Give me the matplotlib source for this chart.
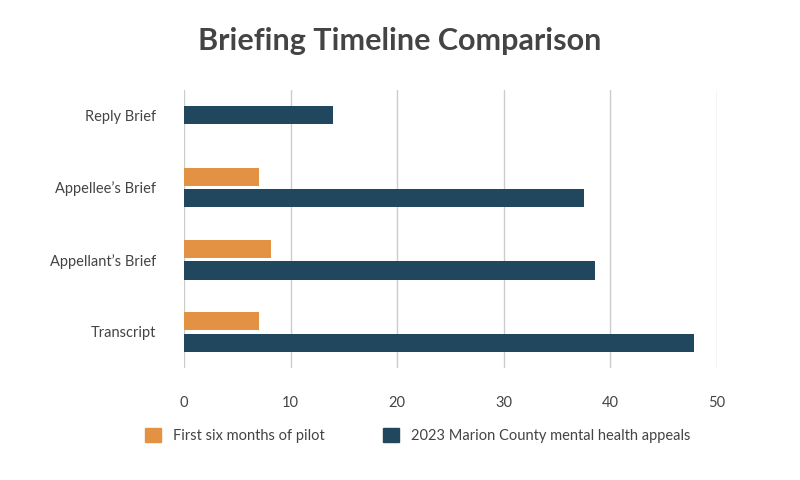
import matplotlib
matplotlib.use("Agg")
import matplotlib.pyplot as plt
import numpy as np
from matplotlib.patches import Patch

categories = ["Transcript", "Appellant’s Brief", "Appellee’s Brief", "Reply Brief"]
pilot = [7.0, 8.2, 7.0, None]
marion = [47.8, 38.6, 37.5, 14.0]
xticks = [0, 10, 20, 30, 40, 50]

orange = "#E39243"
navy = "#21475F"
plt.rcParams["font.family"] = "Lato"

fig = plt.figure(figsize=(8, 4.8), dpi=100)
ax = fig.add_axes([184/800, 1-368/480, (717-184)/800, (368-90)/480])
h = 0.25
off = 0.15
for i, (p, m) in enumerate(zip(pilot, marion)):
    if p is None:
        ax.barh(i, m, height=h, color=navy, zorder=3)
    else:
        ax.barh(i + off, p, height=h, color=orange, zorder=3)
        ax.barh(i - off, m, height=h, color=navy, zorder=3)

ax.set_xlim(0, 50)
ax.set_ylim(-0.5, 3.35)
ax.set_xticks(xticks)
ax.set_yticks(range(len(categories)))
ax.set_yticklabels(categories)
ax.grid(axis="x", color="#cccccc", linewidth=1, zorder=0)
for s in ax.spines.values():
    s.set_visible(False)
ax.tick_params(length=0, labelsize=10.5, colors="#444444", pad=20)
ax.tick_params(axis="y", pad=20)
fig.text(0.5, 0.915, "Briefing Timeline Comparison", ha="center", va="center",
         fontsize=22, fontweight="bold", color="#444444")
handles = [Patch(color=orange, label="First six months of pilot"),
           Patch(color=navy, label="2023 Marion County mental health appeals")]
fig.legend(handles=handles, loc="center", bbox_to_anchor=(0.522, 0.093), ncol=2,
           frameon=False, fontsize=10.5, handlelength=1.1, handleheight=1.1,
           columnspacing=4, labelcolor="#444444")
fig.savefig("out.png", dpi=100)
